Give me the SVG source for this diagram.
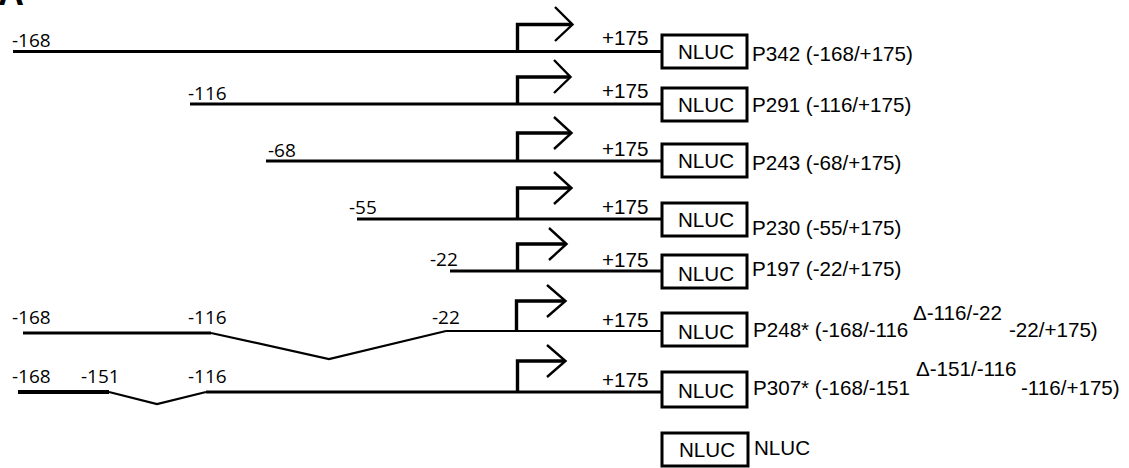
<svg xmlns="http://www.w3.org/2000/svg" width="1129" height="468" viewBox="0 0 1129 468">
<style>
.ln{fill:none;stroke:#000;stroke-width:3}
.dg{fill:none;stroke:#000;stroke-width:2.2}
.ar{fill:none;stroke:#000;stroke-width:3.4}
.hd{fill:none;stroke:#000;stroke-width:2.4}
.bx{fill:#fff;stroke:#000;stroke-width:3}
.pos{font-family:"Open Sans","Liberation Sans",sans-serif;font-size:19px;fill:#000}
.ar20{font-family:"Liberation Sans",Arial,sans-serif;font-size:20.6px;fill:#000}
.ttl{font-family:"Liberation Sans",Arial,sans-serif;font-size:36px;font-weight:bold;fill:#000}
</style>
<text class="ttl" x="-2" y="5">A</text>
<g id="connectors">
  <line class="ln" x1="13" y1="51.5" x2="662" y2="51.5"/>
  <line class="ln" x1="190" y1="104" x2="662" y2="104"/>
  <line class="ln" x1="266" y1="161" x2="662" y2="161"/>
  <line class="ln" x1="357" y1="219" x2="662" y2="219"/>
  <line class="ln" x1="450" y1="271" x2="662" y2="271"/>
  <line class="ln" x1="23" y1="333" x2="211" y2="333"/>
  <polyline class="dg" points="211,333 329,359 446,331"/>
  <line class="dg" x1="446" y1="331" x2="662" y2="331"/>
  <line class="ln" x1="18" y1="392" x2="109" y2="392" style="stroke-width:4"/>
  <polyline class="dg" points="109,392 157,404 206,392"/>
  <line class="ln" x1="206" y1="392" x2="662" y2="392"/>
</g>
<g id="arrows">
  <path class="ar" d="M517.5,51.5 V24.5 H572"/><polyline class="hd" points="555,7 572.5,24.5 555,41"/>
  <path class="ar" d="M517.5,104 V77 H570"/><polyline class="hd" points="554,60 570.5,77 554,93"/>
  <path class="ar" d="M517.5,161 V133 H571"/><polyline class="hd" points="554,117 571.5,133 554,149"/>
  <path class="ar" d="M517.5,219 V188 H571"/><polyline class="hd" points="554,172 571.5,188 554,204"/>
  <path class="ar" d="M517.5,271 V244 H566"/><polyline class="hd" points="549,228 566.5,244 549,260"/>
  <path class="ar" d="M516.5,331 V301 H565"/><polyline class="hd" points="547,285 565.5,301 547,317"/>
  <path class="ar" d="M517.5,392 V361 H565"/><polyline class="hd" points="547,345 565.5,361 547,377"/>
</g>
<g id="left-labels">
  <text class="pos" x="12" y="47">-168</text>
  <text class="pos" x="188" y="100">-116</text>
  <text class="pos" x="268" y="157">-68</text>
  <text class="pos" x="349" y="214">-55</text>
  <text class="pos" x="430" y="266">-22</text>
  <text class="pos" x="12" y="324">-168</text>
  <text class="pos" x="188" y="324">-116</text>
  <text class="pos" x="432" y="324">-22</text>
  <text class="pos" x="12" y="383">-168</text>
  <text class="pos" x="81" y="383">-151</text>
  <text class="pos" x="188" y="383">-116</text>
</g>
<g id="plus-labels">
  <text class="ar20" x="602" y="45">+175</text>
  <text class="ar20" x="602" y="98">+175</text>
  <text class="ar20" x="602" y="156">+175</text>
  <text class="ar20" x="602" y="214">+175</text>
  <text class="ar20" x="602" y="267">+175</text>
  <text class="ar20" x="602" y="327">+175</text>
  <text class="ar20" x="602" y="387">+175</text>
</g>
<g id="P342"><rect class="bx" x="662" y="35" width="85" height="33"/><text class="ar20" x="678" y="59">NLUC</text><text class="ar20" x="752" y="61">P342 (-168/+175)</text></g>
<g id="P291"><rect class="bx" x="662" y="88" width="85" height="33"/><text class="ar20" x="678" y="112">NLUC</text><text class="ar20" x="752" y="112">P291 (-116/+175)</text></g>
<g id="P243"><rect class="bx" x="662" y="144" width="85" height="33"/><text class="ar20" x="678" y="168">NLUC</text><text class="ar20" x="752" y="170">P243 (-68/+175)</text></g>
<g id="P230"><rect class="bx" x="662" y="203" width="85" height="33"/><text class="ar20" x="678" y="227">NLUC</text><text class="ar20" x="752" y="235">P230 (-55/+175)</text></g>
<g id="P197"><rect class="bx" x="662" y="255" width="85" height="33"/><text class="ar20" x="678" y="281">NLUC</text><text class="ar20" x="752" y="276">P197 (-22/+175)</text></g>
<g id="P248"><rect class="bx" x="662" y="313" width="85" height="33"/><text class="ar20" x="678" y="339">NLUC</text><text class="ar20" x="753" y="337">P248* (-168/-116</text><text class="ar20" x="913" y="320">Δ-116/-22</text><text class="ar20" x="1009" y="337">-22/+175)</text></g>
<g id="P307"><rect class="bx" x="662" y="372" width="85" height="35"/><text class="ar20" x="678" y="398">NLUC</text><text class="ar20" x="753" y="395">P307* (-168/-151</text><text class="ar20" x="916" y="376">Δ-151/-116</text><text class="ar20" x="1021" y="395">-116/+175)</text></g>
<g id="NLUC"><rect class="bx" x="662" y="433" width="86" height="33"/><text class="ar20" x="679" y="457">NLUC</text><text class="ar20" x="754" y="455">NLUC</text></g>
</svg>
